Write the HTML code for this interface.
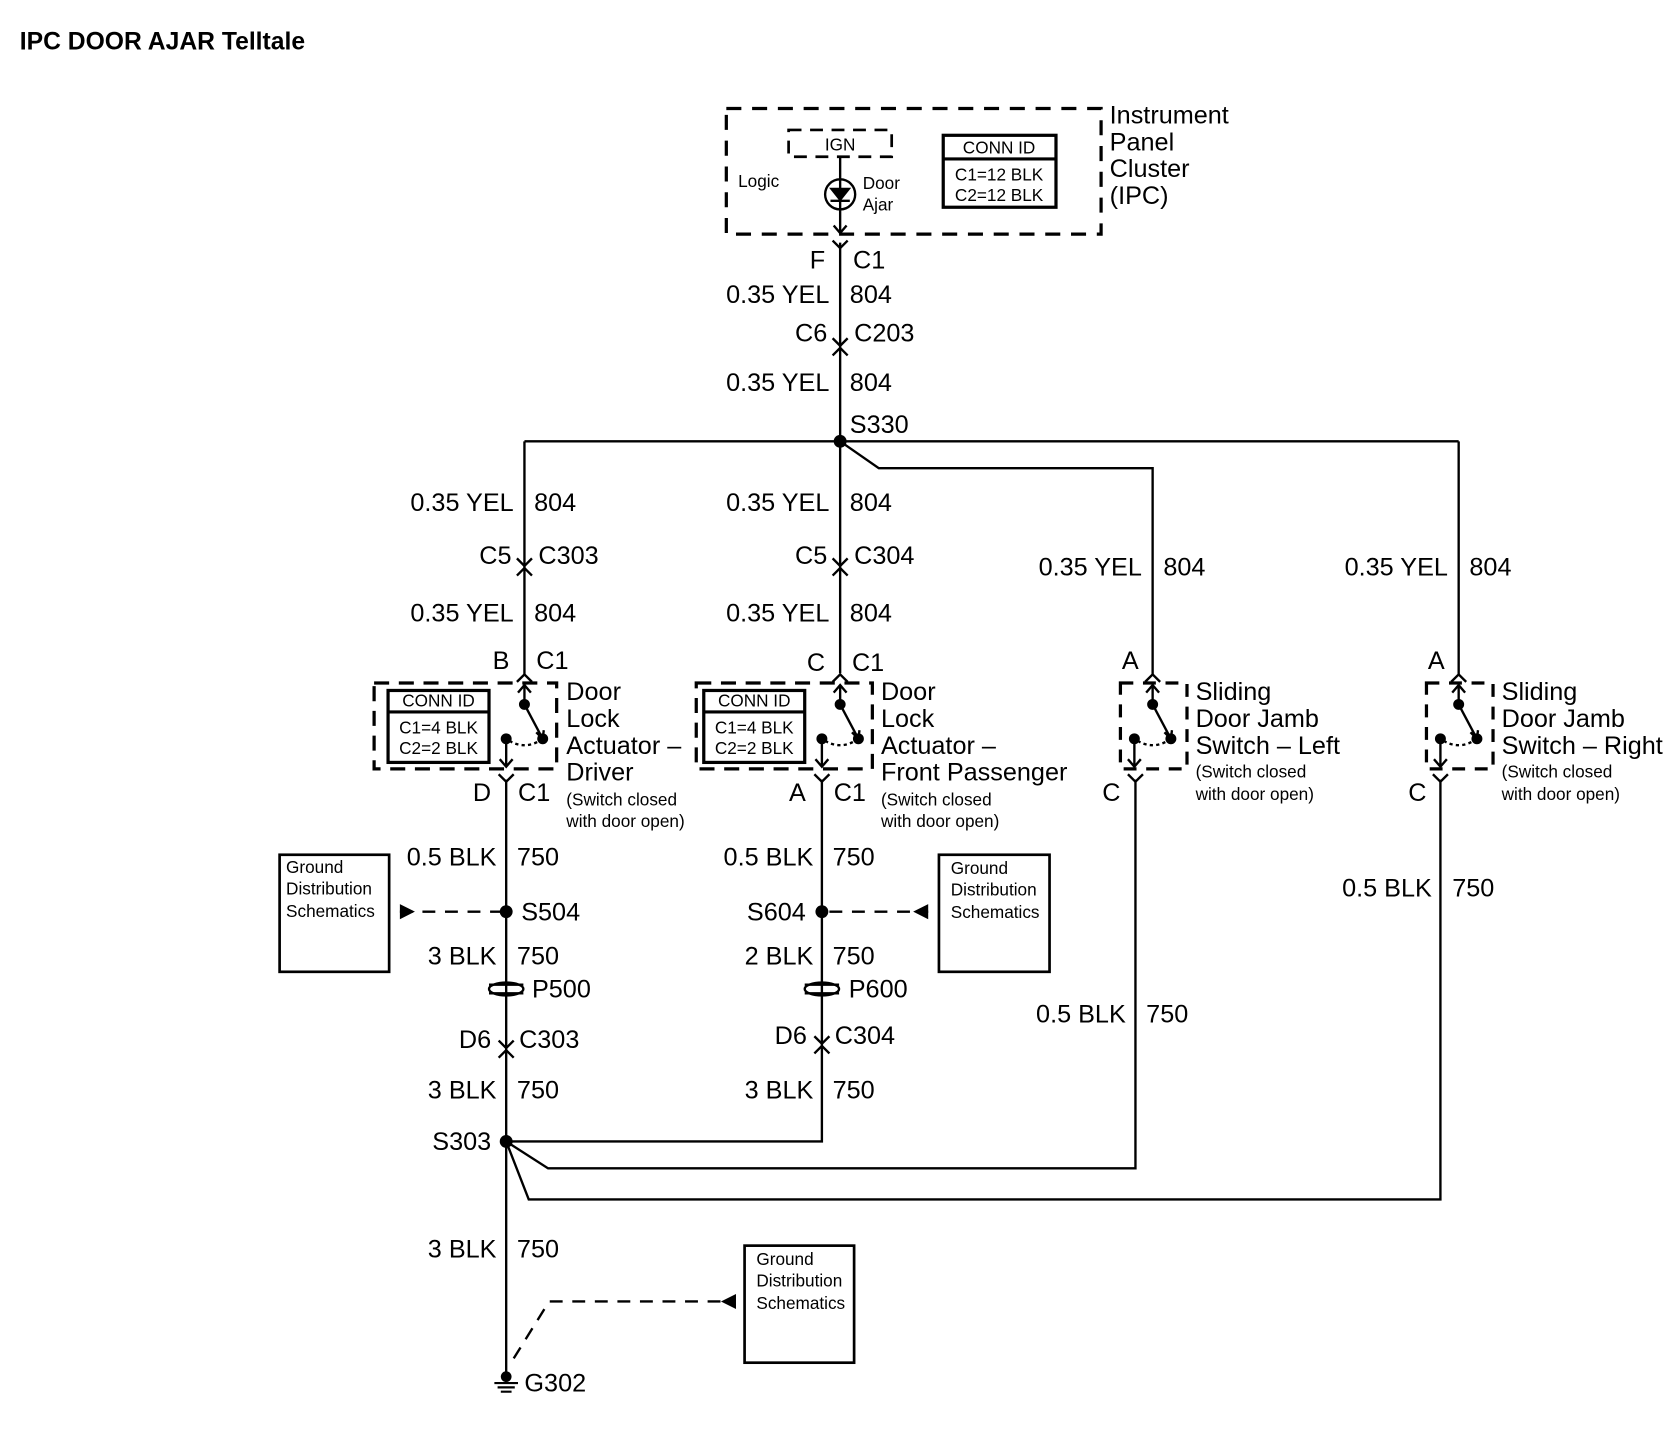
<!DOCTYPE html>
<html><head><meta charset="utf-8"><style>
html,body{margin:0;padding:0;background:#fff}
svg{display:block}
text{font-family:"Liberation Sans",Arial,sans-serif;fill:#000}
.b{font-size:23.5px}
.s{font-size:16px}
.e{text-anchor:end}
.m{text-anchor:middle}
</style></head><body>
<svg width="1676" height="1440" viewBox="0 0 1560 1341" xmlns="http://www.w3.org/2000/svg">
<defs>
<g id="fem"><path d="M-7,-5 L0,2 L7,-5" fill="none" stroke="#000" stroke-width="2.2"/></g>
<g id="male"><path d="M-7,5 L0,-2 L7,5" fill="none" stroke="#000" stroke-width="2.2"/></g>
<g id="inl"><path d="M-7,-6 L0,1 L7,-6 M-7,10 L0,3 L7,10" fill="none" stroke="#000" stroke-width="2.2"/></g>
<g id="sw" fill="none" stroke="#000" stroke-width="2.2">
<path d="M0,2 L0,19 M-6,9 L0,2 L6,9"/>
<circle cx="0" cy="20" r="4" fill="#000"/>
<path d="M0,20 L17,52"/><path d="M11,46 L17,52 L18,44"/>
<circle cx="17" cy="52" r="4" fill="#000"/>
<path d="M17,52 Q0,64 -17,52" stroke-dasharray="3,3"/>
<circle cx="-17" cy="52" r="4" fill="#000"/>
<path d="M-17,52 L-17,78 M-23,71 L-17,78 L-11,71"/>
</g>
<g id="pp" fill="none" stroke="#000" stroke-width="2.2">
<path d="M-16,-4 L16,-4 M-16,4 L16,4"/>
<ellipse cx="0" cy="0" rx="16" ry="6"/>
</g>
</defs>

<text x="18" y="46" style="font-size:23px;font-weight:bold">IPC DOOR AJAR Telltale</text>

<!-- IPC -->
<g fill="none" stroke="#000" stroke-width="3">
<rect x="676" y="101" width="349" height="117" stroke-dasharray="14,10"/>
<rect x="734" y="121" width="96" height="25" stroke-dasharray="12,8" stroke-width="2.5"/>
<rect x="878" y="126" width="105" height="67"/>
<path d="M878,148 L983,148"/>
</g>
<text x="1033" y="115" class="b">Instrument</text>
<text x="1033" y="140" class="b">Panel</text>
<text x="1033" y="165" class="b">Cluster</text>
<text x="1033" y="190" class="b">(IPC)</text>
<text x="782" y="140" class="s m">IGN</text>
<text x="687" y="174" class="s">Logic</text>
<text x="803" y="176" class="s">Door</text>
<text x="803" y="196" class="s">Ajar</text>
<text x="930" y="143" class="s m">CONN ID</text>
<text x="930" y="168" class="s m">C1=12 BLK</text>
<text x="930" y="187" class="s m">C2=12 BLK</text>
<g fill="none" stroke="#000" stroke-width="2.2">
<path d="M782,146 L782,217 M776,210 L782,217 L788,210"/>
<circle cx="782" cy="181" r="14"/>
<path d="M774,176 L790,176 L782,186 Z" fill="#000"/>
<path d="M773,187 L791,187"/>
</g>

<!-- wires -->
<g fill="none" stroke="#000" stroke-width="2.2">
<path d="M782,226 L782,627"/>
<path d="M488,411 L1358,411"/>
<path d="M782,411 L818,436 L1073,436 L1073,628"/>
<path d="M1358,411 L1358,628"/>
<path d="M488,411 L488,628"/>
<path d="M471,726 L471,1280"/>
<path d="M765,726 L765,1063 L471,1063"/>
<path d="M471,1063 L510,1088 L1057,1088 L1057,726"/>
<path d="M471,1063 L492,1117 L1341,1117 L1341,726"/>
<path d="M372,849 L470,849 M772,849 L864,849 M478,1265 L511,1212 L683,1212" stroke-dasharray="12,9"/>
</g>
<path d="M372,842 L386,849 L372,856 Z M864,842 L850,849 L864,856 Z M685,1205 L671,1212 L685,1219 Z"/>
<circle cx="782" cy="411" r="6"/>
<circle cx="471" cy="849" r="6"/>
<circle cx="765" cy="849" r="6"/>
<circle cx="471" cy="1063" r="6"/>

<use href="#fem" x="782" y="229"/>
<use href="#inl" x="782" y="321"/>
<use href="#inl" x="488" y="526"/>
<use href="#inl" x="782" y="526"/>
<use href="#male" x="488" y="630"/>
<use href="#male" x="782" y="630"/>
<use href="#male" x="1073" y="630"/>
<use href="#male" x="1358" y="630"/>
<use href="#fem" x="471" y="726"/>
<use href="#fem" x="765" y="726"/>
<use href="#fem" x="1057" y="726"/>
<use href="#fem" x="1341" y="726"/>
<use href="#inl" x="471" y="975"/>
<use href="#inl" x="765" y="971"/>
<use href="#pp" x="471" y="921"/>
<use href="#pp" x="765" y="921"/>
<use href="#sw" x="488" y="636"/>
<use href="#sw" x="782" y="636"/>
<use href="#sw" x="1073" y="636"/>
<use href="#sw" x="1358" y="636"/>

<!-- ground G302 -->
<circle cx="471" cy="1282" r="5"/>
<path d="M460,1288 L482,1288 M463,1292 L479,1292 M466,1296 L476,1296" stroke="#000" stroke-width="2"/>
<text x="488" y="1296" class="b">G302</text>

<!-- component boxes -->
<g fill="none" stroke="#000" stroke-width="3">
<rect x="348" y="636" width="170" height="80" stroke-dasharray="14,9"/>
<rect x="361" y="643" width="94" height="67"/><path d="M361,663 L455,663"/>
<rect x="648" y="636" width="164" height="80" stroke-dasharray="14,9"/>
<rect x="655" y="643" width="94" height="67"/><path d="M655,663 L749,663"/>
<rect x="1043" y="636" width="62" height="80" stroke-dasharray="12,9"/>
<rect x="1328" y="636" width="62" height="80" stroke-dasharray="12,9"/>
<rect x="260" y="796" width="102" height="109" stroke-width="2.5"/>
<rect x="874" y="796" width="103" height="109" stroke-width="2.5"/>
<rect x="693" y="1160" width="102" height="109" stroke-width="2.5"/>
</g>
<text x="408" y="658" class="s m">CONN ID</text>
<text x="408" y="683" class="s m">C1=4 BLK</text>
<text x="408" y="702" class="s m">C2=2 BLK</text>
<text x="702" y="658" class="s m">CONN ID</text>
<text x="702" y="683" class="s m">C1=4 BLK</text>
<text x="702" y="702" class="s m">C2=2 BLK</text>
<text x="266" y="813" class="s">Ground</text><text x="266" y="833" class="s">Distribution</text><text x="266" y="854" class="s">Schematics</text>
<text x="885" y="814" class="s">Ground</text><text x="885" y="834" class="s">Distribution</text><text x="885" y="855" class="s">Schematics</text>
<text x="704" y="1178" class="s">Ground</text><text x="704" y="1198" class="s">Distribution</text><text x="704" y="1219" class="s">Schematics</text>

<!-- labels top -->
<text x="768" y="250" class="b e">F</text><text x="794" y="250" class="b">C1</text>
<text x="772" y="282" class="b e">0.35 YEL</text><text x="791" y="282" class="b">804</text>
<text x="770" y="318" class="b e">C6</text><text x="795" y="318" class="b">C203</text>
<text x="772" y="364" class="b e">0.35 YEL</text><text x="791" y="364" class="b">804</text>
<text x="791" y="403" class="b">S330</text>

<!-- driver -->
<text x="478" y="476" class="b e">0.35 YEL</text><text x="497" y="476" class="b">804</text>
<text x="476" y="525" class="b e">C5</text><text x="501" y="525" class="b">C303</text>
<text x="478" y="579" class="b e">0.35 YEL</text><text x="497" y="579" class="b">804</text>
<text x="474" y="623" class="b e">B</text><text x="499" y="623" class="b">C1</text>
<text x="527" y="652" class="b">Door</text><text x="527" y="677" class="b">Lock</text>
<text x="527" y="702" class="b">Actuator –</text><text x="527" y="727" class="b">Driver</text>
<text x="527" y="750" class="s">(Switch closed</text><text x="527" y="770" class="s">with door open)</text>
<text x="457" y="746" class="b e">D</text><text x="482" y="746" class="b">C1</text>
<text x="462" y="806" class="b e">0.5 BLK</text><text x="481" y="806" class="b">750</text>
<text x="485" y="857" class="b">S504</text>
<text x="462" y="898" class="b e">3 BLK</text><text x="481" y="898" class="b">750</text>
<text x="495" y="929" class="b">P500</text>
<text x="457" y="976" class="b e">D6</text><text x="483" y="976" class="b">C303</text>
<text x="462" y="1023" class="b e">3 BLK</text><text x="481" y="1023" class="b">750</text>
<text x="457" y="1071" class="b e">S303</text>
<text x="462" y="1171" class="b e">3 BLK</text><text x="481" y="1171" class="b">750</text>

<!-- passenger -->
<text x="772" y="476" class="b e">0.35 YEL</text><text x="791" y="476" class="b">804</text>
<text x="770" y="525" class="b e">C5</text><text x="795" y="525" class="b">C304</text>
<text x="772" y="579" class="b e">0.35 YEL</text><text x="791" y="579" class="b">804</text>
<text x="768" y="625" class="b e">C</text><text x="793" y="625" class="b">C1</text>
<text x="820" y="652" class="b">Door</text><text x="820" y="677" class="b">Lock</text>
<text x="820" y="702" class="b">Actuator –</text><text x="820" y="727" class="b">Front Passenger</text>
<text x="820" y="750" class="s">(Switch closed</text><text x="820" y="770" class="s">with door open)</text>
<text x="750" y="746" class="b e">A</text><text x="776" y="746" class="b">C1</text>
<text x="757" y="806" class="b e">0.5 BLK</text><text x="775" y="806" class="b">750</text>
<text x="750" y="857" class="b e">S604</text>
<text x="757" y="898" class="b e">2 BLK</text><text x="775" y="898" class="b">750</text>
<text x="790" y="929" class="b">P600</text>
<text x="751" y="972" class="b e">D6</text><text x="777" y="972" class="b">C304</text>
<text x="757" y="1023" class="b e">3 BLK</text><text x="775" y="1023" class="b">750</text>

<!-- sliding left -->
<text x="1063" y="536" class="b e">0.35 YEL</text><text x="1083" y="536" class="b">804</text>
<text x="1060" y="623" class="b e">A</text>
<text x="1113" y="652" class="b">Sliding</text><text x="1113" y="677" class="b">Door Jamb</text>
<text x="1113" y="702" class="b">Switch – Left</text>
<text x="1113" y="724" class="s">(Switch closed</text><text x="1113" y="745" class="s">with door open)</text>
<text x="1043" y="746" class="b e">C</text>
<text x="1048" y="952" class="b e">0.5 BLK</text><text x="1067" y="952" class="b">750</text>

<!-- sliding right -->
<text x="1348" y="536" class="b e">0.35 YEL</text><text x="1368" y="536" class="b">804</text>
<text x="1345" y="623" class="b e">A</text>
<text x="1398" y="652" class="b">Sliding</text><text x="1398" y="677" class="b">Door Jamb</text>
<text x="1398" y="702" class="b">Switch – Right</text>
<text x="1398" y="724" class="s">(Switch closed</text><text x="1398" y="745" class="s">with door open)</text>
<text x="1328" y="746" class="b e">C</text>
<text x="1333" y="835" class="b e">0.5 BLK</text><text x="1352" y="835" class="b">750</text>
</svg>
</body></html>
